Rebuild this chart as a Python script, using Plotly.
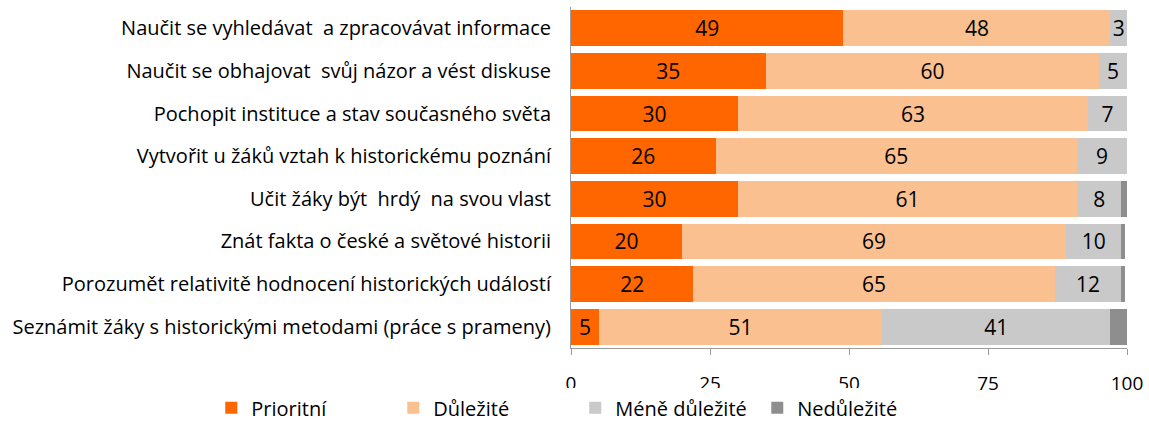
import plotly.graph_objects as go

categories = [
    "Naučit se vyhledávat  a zpracovávat informace",
    "Naučit se obhajovat  svůj názor a vést diskuse",
    "Pochopit instituce a stav současného světa",
    "Vytvořit u žáků vztah k historickému poznání",
    "Učit žáky být  hrdý  na svou vlast",
    "Znát fakta o české a světové historii",
    "Porozumět relativitě hodnocení historických událostí",
    "Seznámit žáky s historickými metodami (práce s prameny)",
]
prioritni = [49, 35, 30, 26, 30, 20, 22, 5]
dulezite = [48, 60, 63, 65, 61, 69, 65, 51]
mene_dulezite = [3, 5, 7, 9, 8, 10, 12, 41]
nedulezite = [0.3, 0.3, 0.3, 0.5, 1.2, 0.6, 0.6, 3]

series = [
    ("Prioritní", prioritni, "#FF6600", True),
    ("Důležité", dulezite, "#FAC090", True),
    ("Méně důležité", mene_dulezite, "#C9C9C9", True),
    ("Nedůležité", nedulezite, "#8E8E8E", False),
]

FONT = "Open Sans"
fig = go.Figure()
for name, vals, color, show_text in series:
    fig.add_trace(go.Bar(
        y=categories, x=vals, name=name, orientation="h",
        marker=dict(color=color, line=dict(width=0)),
        text=[str(v) for v in vals] if show_text else None,
        textposition="inside" if show_text else "none",
        insidetextanchor="middle",
        textfont=dict(family=FONT, size=21, color="#000000"),
    ))

fig.update_layout(
    barmode="stack",
    bargap=0.16,
    width=1149, height=421,
    margin=dict(l=571, r=22, t=7, b=73, autoexpand=False),
    paper_bgcolor="white", plot_bgcolor="white",
    font=dict(family=FONT, size=20, color="#000000"),
    uniformtext=dict(mode="show", minsize=21),
    legend=dict(
        orientation="h",
        x=-0.647, xanchor="left", y=-0.118, yanchor="top",
        font=dict(family=FONT, size=20), entrywidth=137,
        traceorder="normal", itemwidth=30,
    ),
)
fig.update_xaxes(
    range=[0, 100], tickvals=[0, 25, 50, 75, 100],
    showgrid=False, zeroline=False, automargin=False,
    showline=True, linecolor="#9A9A9A", linewidth=1,
    ticks="outside", ticklen=6, tickcolor="#9A9A9A",
    tickfont=dict(family=FONT, size=19), ticklabelstandoff=12,
)
fig.update_yaxes(
    autorange="reversed", showgrid=False, automargin=False,
    showline=True, linecolor="#9A9A9A", linewidth=1,
    ticks="", tickfont=dict(family=FONT, size=20), ticklabelstandoff=15,
)
fig.write_html(
    "out.html",
    config={"displayModeBar": False},
    post_script="document.body.style.margin='0';document.body.style.overflow='hidden';",
)
